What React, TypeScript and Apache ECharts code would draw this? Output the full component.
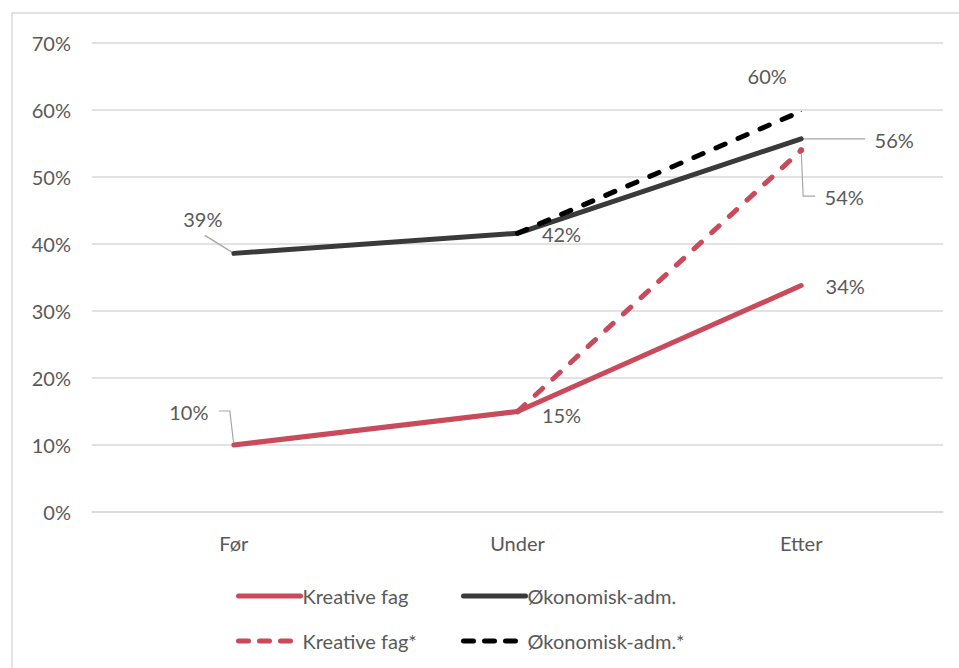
import React, { useEffect, useRef } from "react";
import * as echarts from "echarts";

const categories = ["Før", "Under", "Etter"];
const kreativeFag = [10, 15, 33.8];
const okonomiskAdm = [38.6, 41.6, 55.7];
const kreativeFagStar = ["-", 15, 54];
const okonomiskAdmStar = ["-", 41.6, 59.8];
const yTicks = [0, 10, 20, 30, 40, 50, 60, 70];

const RED = "#C84A5B";
const DARK = "#3A3A3A";
const BLACK = "#000000";
const TEXT = "#595959";
const FONT = "Lato";
const LW = 5;
const DASH = [10, 14];
const LEGEND_DASH = [10, 11];

export default function App() {
  const ref = useRef<HTMLDivElement>(null);
  useEffect(() => {
    if (!ref.current) return;
    const chart = echarts.init(ref.current, null, { renderer: "svg" });
    const lbl = (dx: number, dy: number) => ({
      show: true,
      position: "inside",
      offset: [dx, dy],
      formatter: (p: any) => Math.round(p.value) + "%",
      color: TEXT,
      fontSize: 20,
      fontFamily: FONT,
      align: "center",
      verticalAlign: "middle",
    });
    const pt = (v: any, dx: number, dy: number) =>
      v === "-" ? v : { value: v, label: lbl(dx, dy) };
    const kfOff = [[-45, -33], [44, 3], [44, 0]];
    const oaOff = [[-31, -34], [44, 1], [93, 1]];
    const kfsOff = [[0, 0], [0, 0], [43, 47]];
    const oasOff = [[0, 0], [0, 0], [-34, -35]];
    const lineBase = {
      type: "line",
      symbol: "circle",
      symbolSize: 1,
      showSymbol: true,
      z: 3,
    };
    const legendItem = (name: string, left: number, top: number, dashed: boolean) => ({
      orient: "horizontal",
      left,
      top,
      itemWidth: 62,
      itemHeight: 20,
      itemStyle: { opacity: 0 },
      lineStyle: dashed
        ? { width: LW, cap: "round", type: LEGEND_DASH }
        : { width: LW, cap: "round" },
      textStyle: { color: TEXT, fontSize: 20, fontFamily: FONT, padding: [0, 0, 0, -3] },
      data: [name],
    });
    chart.setOption({
      animation: false,
      backgroundColor: "#ffffff",
      textStyle: { fontFamily: FONT },
      grid: { left: 92, right: 16, top: 43, height: 469, containLabel: false },
      xAxis: {
        type: "category",
        data: categories,
        boundaryGap: true,
        axisLine: { show: true, lineStyle: { color: "#d9d9d9", width: 1.5 } },
        axisTick: { show: false },
        axisLabel: { color: TEXT, fontSize: 20, fontFamily: FONT, margin: 21 },
      },
      yAxis: {
        type: "value",
        min: yTicks[0],
        max: yTicks[yTicks.length - 1],
        interval: 10,
        axisLine: { show: false },
        axisTick: { show: false },
        axisLabel: {
          color: TEXT,
          fontSize: 20,
          fontFamily: FONT,
          margin: 21,
          formatter: "{value}%",
        },
        splitLine: { lineStyle: { color: "#d9d9d9", width: 1.5 } },
      },
      legend: [
        legendItem("Kreative fag", 231, 581, false),
        legendItem("Økonomisk-adm.", 456, 581, false),
        legendItem("Kreative fag*", 231, 626, true),
        legendItem("Økonomisk-adm.*", 456, 626, true),
      ],
      series: [
        {
          ...lineBase,
          name: "Kreative fag",
          data: kreativeFag.map((v, i) => pt(v, kfOff[i][0], kfOff[i][1])),
          lineStyle: { color: RED, width: LW, cap: "round", join: "round" },
          itemStyle: { color: RED },
        },
        {
          ...lineBase,
          name: "Økonomisk-adm.",
          data: okonomiskAdm.map((v, i) => pt(v, oaOff[i][0], oaOff[i][1])),
          lineStyle: { color: DARK, width: LW, cap: "round", join: "round" },
          itemStyle: { color: DARK },
        },
        {
          ...lineBase,
          name: "Kreative fag*",
          data: kreativeFagStar.map((v, i) =>
            i === 2 ? pt(v, kfsOff[i][0], kfsOff[i][1]) : v
          ),
          symbolSize: 6,
          lineStyle: { color: RED, width: LW, type: DASH, cap: "round" },
          itemStyle: { color: RED },
        },
        {
          ...lineBase,
          name: "Økonomisk-adm.*",
          data: okonomiskAdmStar.map((v, i) =>
            i === 2 ? pt(v, oasOff[i][0], oasOff[i][1]) : v
          ),
          lineStyle: { color: BLACK, width: LW, type: DASH, cap: "round" },
          itemStyle: { color: BLACK },
        },
      ],
    });

    const px = (s: number, i: number, v: number) =>
      chart.convertToPixel({ seriesIndex: s }, [i, v]) as number[];
    const p1 = px(0, 0, kreativeFag[0]);
    const p2 = px(1, 0, okonomiskAdm[0]);
    const p3 = px(1, 2, okonomiskAdm[2]);
    const p4 = px(2, 2, kreativeFagStar[2] as number);
    const leader = { stroke: "#a6a6a6", lineWidth: 1.2, fill: null };
    chart.setOption({
      graphic: [
        {
          type: "rect",
          shape: { x: 12, y: 13, width: 1000, height: 700 },
          style: { fill: null, stroke: "#d9d9d9", lineWidth: 1.5 },
          silent: true,
          z: -10,
        },
        {
          type: "polyline",
          shape: { points: [[p1[0], p1[1]], [p1[0] - 4, p1[1] - 34], [p1[0] - 15, p1[1] - 34]] },
          style: leader,
          z: 1,
        },
        {
          type: "polyline",
          shape: { points: [[p2[0], p2[1]], [p2[0] - 29, p2[1] - 18]] },
          style: leader,
          z: 1,
        },
        {
          type: "polyline",
          shape: { points: [[p3[0], p3[1]], [p3[0] + 64, p3[1]]] },
          style: leader,
          z: 1,
        },
        {
          type: "polyline",
          shape: { points: [[p4[0], p4[1]], [p4[0] + 2, p4[1] + 46], [p4[0] + 14, p4[1] + 46]] },
          style: leader,
          z: 1,
        },
      ],
    });
    return () => chart.dispose();
  }, []);
  return (
    <div
      ref={ref}
      style={{ position: "fixed", left: 0, top: 0, width: 959, height: 668 }}
    />
  );
}
